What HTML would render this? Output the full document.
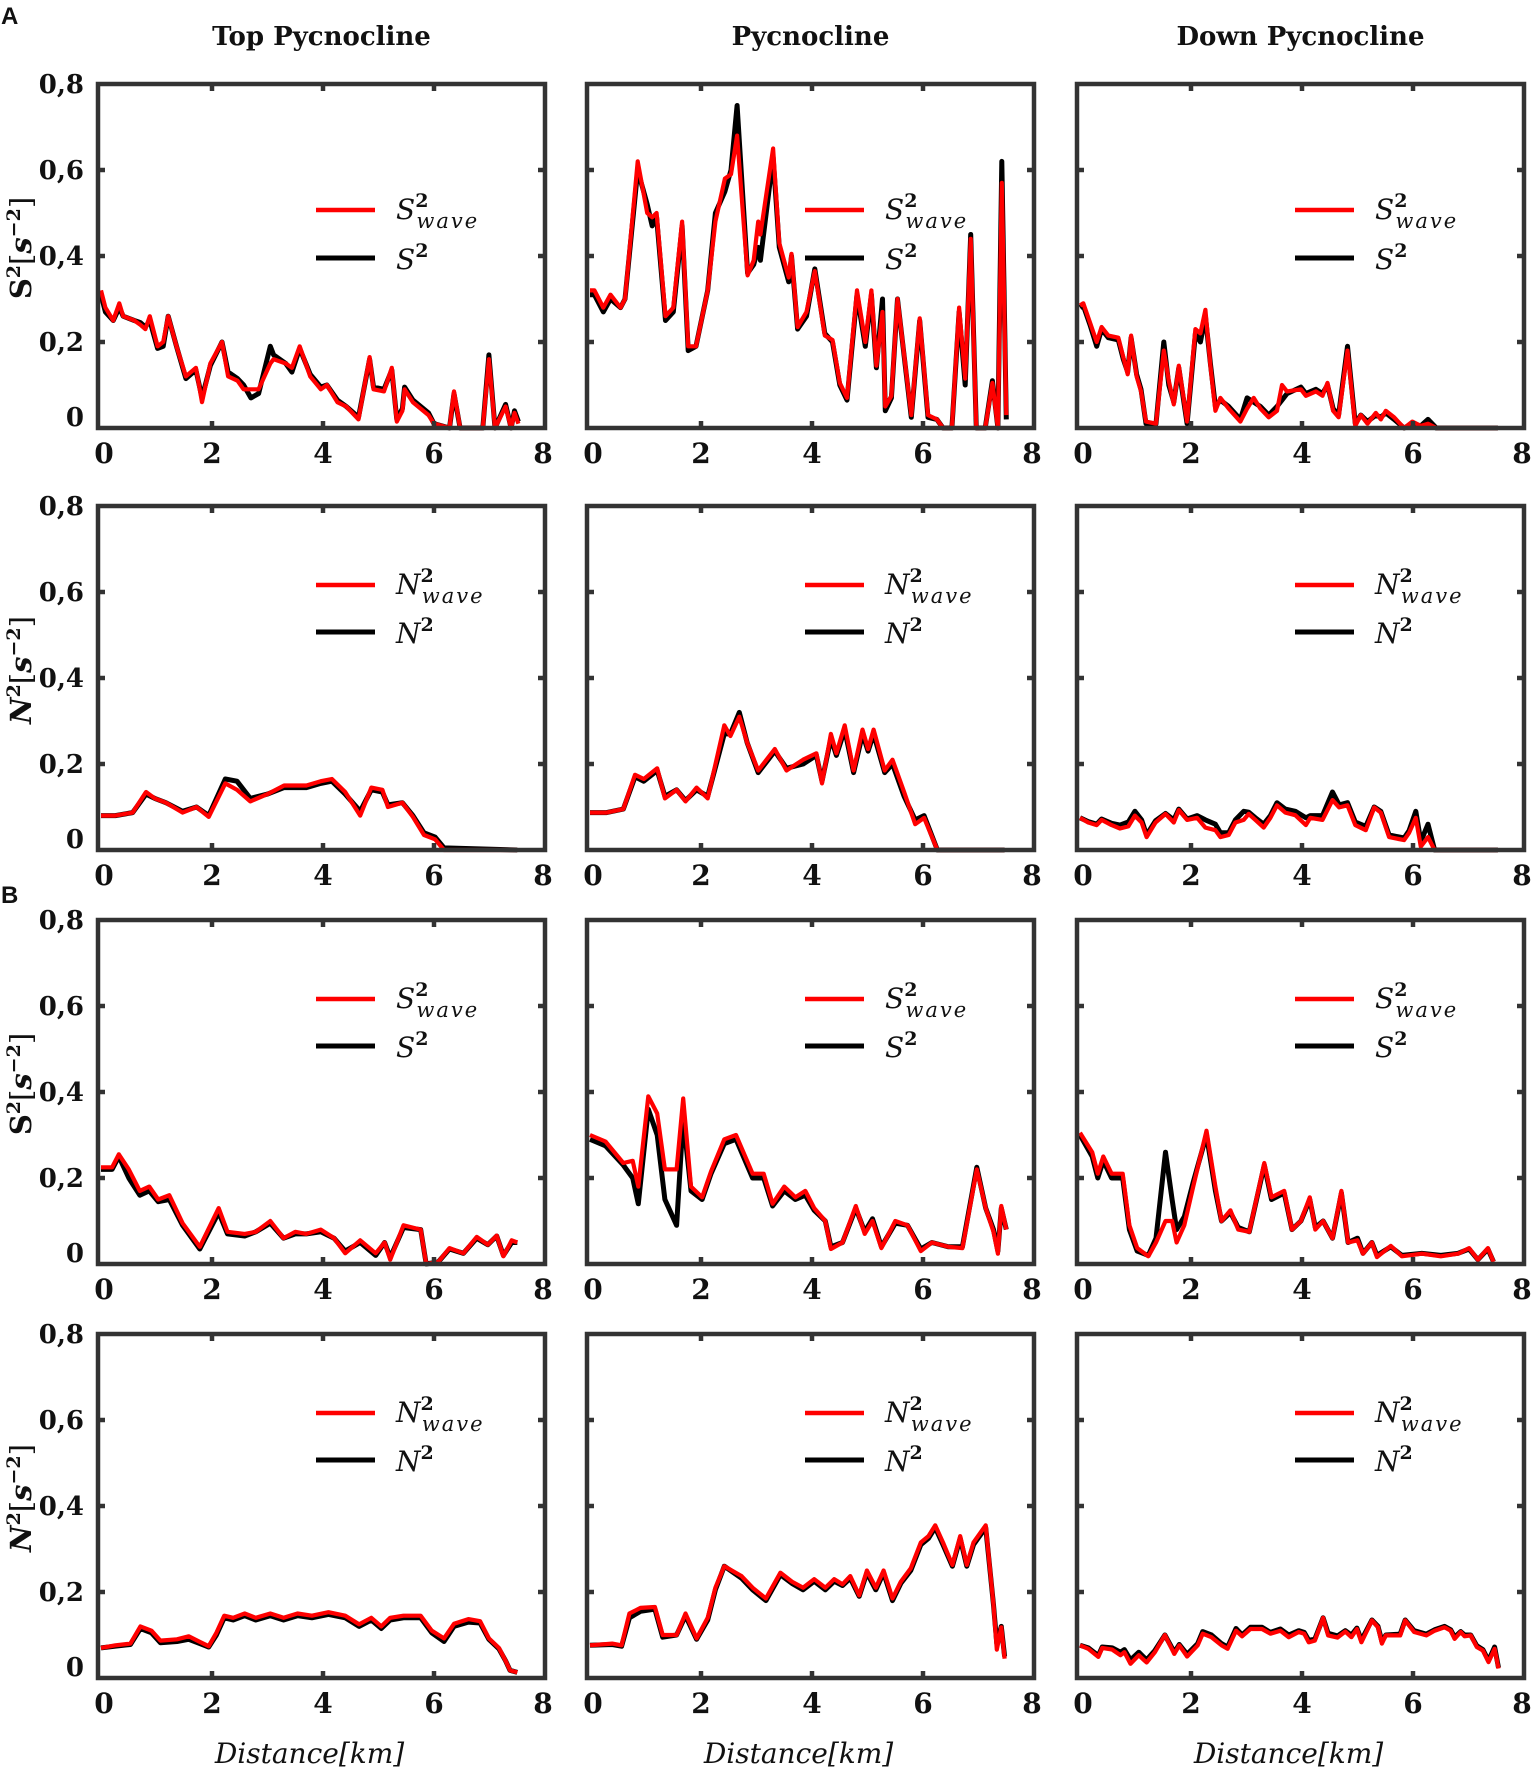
<!DOCTYPE html>
<html><head><meta charset="utf-8"><style>
html,body{margin:0;padding:0;background:#fff}
svg{display:block}
text{font-family:"DejaVu Serif","Liberation Serif",serif}
text.sans{font-family:"Liberation Sans",sans-serif}
</style></head><body>
<svg id="fig" width="1536" height="1774" viewBox="0 0 1536 1774" xmlns="http://www.w3.org/2000/svg"></svg>
<script>
// ---- data ----
const xTicks=[0,2,4,6,8];
const yTickLabels=["0","0,2","0,4","0,6","0,8"];
const yTicks=[0,0.2,0.4,0.6,0.8];
const colTitles=["Top Pycnocline","Pycnocline","Down Pycnocline"];

// A - S2 top
const aS1x=[0,0.08,0.22,0.33,0.4,0.6,0.71,0.8,0.88,1.02,1.12,1.21,1.36,1.53,1.71,1.82,1.97,2.18,2.29,2.46,2.57,2.7,2.84,3.05,3.11,3.33,3.44,3.58,3.77,3.96,4.07,4.26,4.42,4.64,4.84,4.91,5.1,5.24,5.33,5.43,5.47,5.62,5.9,6.0,6.28,6.36,6.47,6.88,6.99,7.1,7.29,7.39,7.45,7.52];
const aS1red=[0.32,0.28,0.25,0.29,0.26,0.25,0.24,0.23,0.26,0.19,0.2,0.26,0.19,0.12,0.14,0.06,0.15,0.2,0.12,0.11,0.09,0.09,0.09,0.15,0.16,0.15,0.14,0.19,0.12,0.09,0.1,0.06,0.05,0.02,0.165,0.09,0.085,0.14,0.015,0.04,0.09,0.06,0.03,0.01,0,0.085,0,0,0.16,0,0.05,0,0.035,0.01];
const aS1blk=[0.31,0.27,0.25,0.28,0.26,0.25,0.245,0.235,0.25,0.185,0.19,0.26,0.19,0.115,0.135,0.07,0.145,0.2,0.13,0.115,0.1,0.07,0.08,0.19,0.17,0.15,0.13,0.185,0.125,0.095,0.1,0.065,0.05,0.025,0.16,0.095,0.09,0.135,0.02,0.045,0.095,0.065,0.035,0.01,0,0.08,0,0,0.17,0,0.055,0,0.04,0.015];
// A - S2 pycnocline
const aS2x=[0,0.08,0.24,0.37,0.55,0.63,0.86,1.03,1.12,1.2,1.36,1.5,1.66,1.77,1.91,2.12,2.26,2.43,2.54,2.65,2.84,2.95,3.03,3.07,3.3,3.41,3.58,3.63,3.74,3.9,4.05,4.23,4.37,4.5,4.63,4.81,4.96,5.07,5.16,5.27,5.32,5.43,5.54,5.79,5.94,6.09,6.25,6.36,6.52,6.65,6.76,6.86,6.96,7.12,7.25,7.35,7.42,7.5];
const aS2red=[0.32,0.32,0.28,0.31,0.28,0.3,0.62,0.5,0.49,0.5,0.26,0.28,0.48,0.19,0.19,0.32,0.48,0.58,0.59,0.68,0.355,0.39,0.48,0.45,0.65,0.43,0.35,0.405,0.235,0.27,0.365,0.215,0.205,0.105,0.07,0.32,0.2,0.32,0.145,0.27,0.05,0.075,0.3,0.03,0.255,0.03,0.02,0,0,0.28,0.115,0.44,0,0,0.105,0,0.57,0.03];
const aS2blk=[0.31,0.31,0.27,0.3,0.28,0.3,0.6,0.52,0.47,0.49,0.25,0.27,0.47,0.18,0.19,0.32,0.5,0.55,0.6,0.75,0.36,0.38,0.42,0.39,0.63,0.42,0.34,0.4,0.23,0.26,0.37,0.22,0.2,0.1,0.065,0.31,0.19,0.31,0.14,0.3,0.04,0.07,0.3,0.025,0.25,0.025,0.02,0,0,0.27,0.1,0.45,0,0,0.11,0,0.62,0.02];
// A - S2 down
const aS3x=[0,0.06,0.18,0.3,0.39,0.51,0.69,0.78,0.86,0.92,1.02,1.1,1.19,1.37,1.51,1.6,1.69,1.78,1.93,2.08,2.17,2.26,2.35,2.44,2.53,2.68,2.89,3.01,3.13,3.25,3.4,3.55,3.64,3.73,3.98,4.07,4.25,4.37,4.46,4.56,4.66,4.82,4.96,5.06,5.18,5.33,5.42,5.51,5.66,5.84,5.99,6.14,6.27,6.42,7.53];
const aS3red=[0.285,0.29,0.245,0.2,0.235,0.215,0.21,0.165,0.125,0.215,0.12,0.085,0.015,0.01,0.18,0.11,0.055,0.145,0.015,0.23,0.22,0.275,0.145,0.04,0.07,0.045,0.015,0.045,0.07,0.045,0.025,0.04,0.1,0.085,0.09,0.075,0.085,0.075,0.105,0.04,0.025,0.18,0.005,0.03,0.01,0.035,0.02,0.04,0.025,0,0.015,0.005,0.01,0,0];
const aS3blk=[0.28,0.285,0.24,0.19,0.23,0.21,0.205,0.16,0.13,0.21,0.125,0.09,0.01,0.01,0.2,0.1,0.06,0.14,0.01,0.22,0.2,0.26,0.15,0.05,0.065,0.05,0.02,0.07,0.06,0.05,0.03,0.05,0.065,0.08,0.095,0.08,0.09,0.08,0.1,0.045,0.03,0.19,0.01,0.03,0.015,0.03,0.025,0.035,0.02,0,0.01,0.005,0.02,0,0];
// A - N2 top
const aN1x=[0,0.26,0.57,0.81,0.97,1.17,1.47,1.72,1.94,2.24,2.45,2.69,3.0,3.3,3.7,3.96,4.16,4.4,4.67,4.87,5.07,5.17,5.43,5.62,5.82,6.02,6.18,7.5];
const aN1red=[0.08,0.08,0.087,0.135,0.12,0.11,0.087,0.1,0.077,0.155,0.14,0.113,0.13,0.15,0.15,0.16,0.165,0.135,0.08,0.145,0.14,0.1,0.11,0.077,0.035,0.025,0,0];
const aN1blk=[0.08,0.08,0.087,0.13,0.12,0.11,0.09,0.1,0.08,0.165,0.16,0.12,0.13,0.145,0.145,0.155,0.16,0.13,0.09,0.14,0.135,0.105,0.11,0.08,0.04,0.03,0.005,0];
// A - N2 pycnocline
const aN2x=[0,0.3,0.6,0.81,0.97,1.21,1.35,1.56,1.72,1.92,2.12,2.42,2.53,2.69,2.83,3.03,3.33,3.54,3.84,4.08,4.18,4.34,4.44,4.59,4.75,4.91,5.01,5.11,5.31,5.45,5.66,5.86,6.02,6.26,7.47];
const aN2red=[0.087,0.087,0.095,0.175,0.165,0.19,0.12,0.14,0.113,0.145,0.12,0.29,0.265,0.31,0.25,0.185,0.235,0.185,0.21,0.225,0.155,0.27,0.225,0.29,0.185,0.28,0.235,0.28,0.185,0.21,0.135,0.06,0.075,0,0];
const aN2blk=[0.087,0.087,0.095,0.17,0.16,0.185,0.125,0.14,0.115,0.14,0.125,0.27,0.27,0.32,0.25,0.18,0.23,0.19,0.2,0.22,0.16,0.26,0.22,0.28,0.18,0.27,0.23,0.27,0.18,0.2,0.125,0.07,0.08,0,0];
// A - N2 down
const aN3x=[0,0.15,0.3,0.39,0.57,0.72,0.87,0.99,1.11,1.2,1.36,1.54,1.69,1.78,1.93,2.11,2.26,2.44,2.53,2.68,2.8,2.95,3.04,3.16,3.31,3.43,3.55,3.7,3.88,4.07,4.15,4.37,4.55,4.67,4.82,4.96,5.15,5.3,5.42,5.57,5.84,5.93,6.05,6.14,6.27,6.39,7.53];
const aN3red=[0.075,0.064,0.058,0.07,0.058,0.05,0.055,0.08,0.064,0.03,0.064,0.084,0.064,0.093,0.07,0.075,0.052,0.046,0.03,0.035,0.064,0.07,0.084,0.07,0.052,0.075,0.104,0.087,0.081,0.058,0.075,0.07,0.116,0.099,0.104,0.058,0.046,0.099,0.087,0.03,0.023,0.04,0.075,0.008,0.03,0,0];
const aN3blk=[0.075,0.066,0.06,0.072,0.062,0.058,0.065,0.09,0.07,0.035,0.068,0.085,0.07,0.095,0.072,0.08,0.07,0.06,0.04,0.04,0.07,0.09,0.088,0.075,0.06,0.08,0.11,0.095,0.09,0.075,0.08,0.08,0.135,0.105,0.11,0.065,0.055,0.1,0.09,0.035,0.028,0.045,0.09,0.02,0.06,0,0];
// B - S2 top
const bS1x=[0,0.2,0.32,0.5,0.7,0.87,1.03,1.23,1.47,1.78,2.12,2.28,2.59,2.79,3.05,3.29,3.5,3.7,3.96,4.2,4.4,4.67,4.95,5.11,5.21,5.45,5.76,5.86,6.08,6.28,6.53,6.77,6.97,7.13,7.25,7.4,7.5];
const bS1red=[0.225,0.225,0.255,0.22,0.17,0.18,0.15,0.16,0.095,0.04,0.13,0.075,0.07,0.075,0.1,0.06,0.075,0.07,0.08,0.06,0.025,0.055,0.025,0.05,0.01,0.09,0.08,0,0.005,0.037,0.025,0.063,0.045,0.066,0.018,0.055,0.05];
const bS1blk=[0.22,0.22,0.25,0.2,0.16,0.17,0.145,0.15,0.09,0.035,0.12,0.07,0.065,0.075,0.095,0.06,0.07,0.07,0.075,0.06,0.03,0.05,0.02,0.05,0.015,0.085,0.08,0,0.005,0.035,0.025,0.06,0.045,0.065,0.02,0.05,0.05];
// B - S2 pycnocline
const bS2x=[0,0.28,0.6,0.77,0.87,1.05,1.21,1.35,1.56,1.68,1.82,2.02,2.18,2.42,2.63,2.93,3.13,3.29,3.5,3.7,3.88,4.04,4.24,4.34,4.55,4.79,4.95,5.09,5.25,5.5,5.72,5.96,6.16,6.46,6.71,6.97,7.13,7.27,7.35,7.41,7.5];
const bS2red=[0.3,0.285,0.235,0.24,0.18,0.39,0.35,0.22,0.22,0.385,0.18,0.155,0.215,0.29,0.3,0.21,0.21,0.14,0.18,0.155,0.17,0.13,0.1,0.035,0.05,0.135,0.07,0.1,0.037,0.1,0.09,0.03,0.05,0.04,0.037,0.22,0.13,0.075,0.024,0.135,0.08];
const bS2blk=[0.29,0.275,0.23,0.2,0.14,0.36,0.3,0.15,0.09,0.34,0.17,0.15,0.21,0.28,0.29,0.2,0.2,0.135,0.17,0.15,0.16,0.125,0.1,0.04,0.05,0.13,0.075,0.105,0.04,0.095,0.09,0.035,0.05,0.04,0.04,0.225,0.13,0.08,0.03,0.13,0.08];
// B - S2 down
const bS3x=[0,0.22,0.32,0.42,0.57,0.77,0.89,1.03,1.23,1.37,1.54,1.66,1.74,1.88,2.04,2.28,2.44,2.55,2.71,2.85,3.05,3.32,3.45,3.68,3.82,3.98,4.14,4.24,4.38,4.55,4.71,4.83,5.0,5.1,5.26,5.35,5.6,5.8,6.16,6.5,6.81,7.01,7.17,7.35,7.45];
const bS3red=[0.305,0.26,0.21,0.25,0.21,0.21,0.09,0.037,0.018,0.05,0.1,0.1,0.05,0.09,0.18,0.31,0.18,0.1,0.125,0.08,0.075,0.235,0.155,0.17,0.08,0.1,0.155,0.08,0.1,0.06,0.17,0.05,0.055,0.024,0.05,0.016,0.042,0.018,0.024,0.018,0.024,0.037,0.01,0.037,0.005];
const bS3blk=[0.3,0.25,0.2,0.24,0.2,0.2,0.08,0.03,0.02,0.06,0.26,0.15,0.08,0.11,0.19,0.3,0.17,0.1,0.12,0.085,0.075,0.23,0.15,0.165,0.08,0.1,0.15,0.085,0.1,0.06,0.165,0.05,0.06,0.025,0.05,0.02,0.04,0.02,0.025,0.02,0.025,0.035,0.01,0.035,0.005];
// B - N2 top
const bN1x=[0,0.26,0.53,0.71,0.91,1.07,1.37,1.58,1.78,1.94,2.08,2.22,2.38,2.59,2.79,3.05,3.29,3.54,3.8,4.1,4.4,4.65,4.87,5.05,5.21,5.45,5.76,5.96,6.18,6.36,6.62,6.83,6.99,7.17,7.29,7.37,7.5];
const bN1red=[0.07,0.076,0.08,0.12,0.11,0.087,0.09,0.097,0.084,0.074,0.105,0.145,0.14,0.15,0.14,0.15,0.14,0.15,0.145,0.153,0.145,0.125,0.14,0.12,0.14,0.145,0.145,0.11,0.092,0.126,0.137,0.132,0.092,0.07,0.04,0.018,0.013];
const bN1blk=[0.07,0.074,0.078,0.115,0.105,0.082,0.085,0.09,0.08,0.072,0.1,0.14,0.135,0.145,0.135,0.145,0.135,0.145,0.14,0.148,0.14,0.12,0.135,0.115,0.135,0.14,0.14,0.105,0.085,0.12,0.13,0.128,0.09,0.068,0.04,0.018,0.013];
// B - N2 pycnocline
const bN2x=[0,0.4,0.57,0.71,0.91,1.17,1.31,1.56,1.72,1.92,2.12,2.26,2.42,2.73,2.93,3.17,3.43,3.64,3.84,4.04,4.24,4.4,4.55,4.69,4.85,4.99,5.15,5.29,5.45,5.6,5.78,5.96,6.1,6.22,6.36,6.53,6.67,6.79,6.91,7.13,7.27,7.33,7.41,7.47];
const bN2red=[0.076,0.08,0.076,0.15,0.163,0.165,0.1,0.1,0.15,0.092,0.14,0.21,0.26,0.237,0.21,0.185,0.245,0.224,0.21,0.23,0.21,0.23,0.218,0.237,0.192,0.25,0.21,0.25,0.185,0.224,0.255,0.315,0.33,0.355,0.315,0.263,0.33,0.263,0.315,0.355,0.17,0.066,0.118,0.045];
const bN2blk=[0.076,0.078,0.074,0.14,0.155,0.16,0.095,0.1,0.145,0.09,0.135,0.205,0.26,0.232,0.205,0.18,0.24,0.22,0.205,0.225,0.205,0.225,0.215,0.232,0.19,0.245,0.205,0.245,0.18,0.22,0.25,0.31,0.325,0.35,0.31,0.26,0.325,0.26,0.31,0.35,0.17,0.08,0.12,0.05];
// B - N2 down
const bN3x=[0,0.15,0.33,0.4,0.58,0.73,0.8,0.91,1.06,1.2,1.35,1.53,1.7,1.79,1.93,2.12,2.21,2.37,2.55,2.66,2.81,2.92,3.07,3.28,3.43,3.61,3.76,3.94,4.04,4.12,4.23,4.38,4.47,4.64,4.78,4.89,4.99,5.07,5.26,5.37,5.44,5.51,5.77,5.86,6.02,6.24,6.39,6.57,6.68,6.75,6.86,6.93,7.04,7.15,7.26,7.36,7.47,7.54];
const bN3red=[0.076,0.068,0.049,0.07,0.066,0.053,0.06,0.033,0.053,0.036,0.06,0.1,0.056,0.076,0.05,0.076,0.103,0.095,0.076,0.068,0.11,0.097,0.114,0.114,0.103,0.11,0.095,0.107,0.103,0.083,0.087,0.14,0.099,0.094,0.108,0.095,0.114,0.083,0.134,0.118,0.08,0.099,0.099,0.134,0.107,0.099,0.11,0.118,0.11,0.091,0.107,0.097,0.099,0.072,0.064,0.037,0.068,0.022];
const bN3blk=[0.076,0.07,0.052,0.072,0.07,0.06,0.066,0.042,0.06,0.042,0.064,0.1,0.06,0.078,0.055,0.08,0.108,0.1,0.08,0.072,0.115,0.1,0.118,0.118,0.106,0.114,0.1,0.11,0.106,0.088,0.09,0.14,0.104,0.098,0.11,0.1,0.116,0.088,0.135,0.12,0.085,0.1,0.102,0.135,0.11,0.102,0.112,0.12,0.112,0.095,0.108,0.1,0.1,0.075,0.066,0.04,0.072,0.024];

const panelsData=[
 [aS1x,aS1red,aS1blk],[aS2x,aS2red,aS2blk],[aS3x,aS3red,aS3blk],
 [aN1x,aN1red,aN1blk],[aN2x,aN2red,aN2blk],[aN3x,aN3red,aN3blk],
 [bS1x,bS1red,bS1blk],[bS2x,bS2red,bS2blk],[bS3x,bS3red,bS3blk],
 [bN1x,bN1red,bN1blk],[bN2x,bN2red,bN2blk],[bN3x,bN3red,bN3blk]
];

// ---- layout ----
const NS="http://www.w3.org/2000/svg";
const svg=document.getElementById('fig');
const colL=[98,587,1077], PW=447;
const rowT=[84,506,920,1334], PH=344;
function el(tag,attrs,parent){const e=document.createElementNS(NS,tag);for(const k in attrs)e.setAttribute(k,attrs[k]);(parent||svg).appendChild(e);return e;}

function txt(parent,x,y,s,size,weight,style,anchor){
  const t=el('text',{x:x,y:y,'font-size':size,'font-weight':weight||'normal','font-style':style||'normal','text-anchor':anchor||'middle',fill:'#111'},parent);
  t.textContent=s;return t;
}

// panel letters
const la=txt(svg,1,24,"A",24,'bold','normal','start');la.setAttribute('class','sans');


const lb=txt(svg,1,903,"B",24,'bold','normal','start');lb.setAttribute('class','sans');



// column titles
colTitles.forEach((s,i)=>{
  const t=txt(svg,colL[i]+PW/2,45,s,26,'bold');
  
  
});

for(let r=0;r<4;r++){
  const isS=(r%2===0);
  const sym=isS?'S':'N';
  // y axis title
  const yt=el('text',{x:0,y:0,'font-size':29,'font-weight':'bold','text-anchor':'middle',fill:'#111',transform:`translate(31,${rowT[r]+PH/2-8}) rotate(-90)`});
  
  
  yt.innerHTML=`<tspan font-style="${isS?'normal':'italic'}">${sym}</tspan><tspan dy="-11" font-size="19">2</tspan><tspan dy="11" font-weight="normal">[</tspan><tspan font-style="italic">s</tspan><tspan dy="-11" font-size="19">−2</tspan><tspan dy="11" font-weight="normal">]</tspan>`;
  for(let c=0;c<3;c++){
    const L=colL[c],T=rowT[r];
    const [xs,red,blk]=panelsData[r*3+c];
    const g=el('g',{});
    
    
    const sx=v=>L+3+v/8*(PW-3);
    const sy=v=>T+PH-v/0.8*PH;
    const mk=(arr)=>xs.map((x,i)=>sx(x).toFixed(1)+','+sy(arr[i]).toFixed(1)).join(' ');
    const pb=el('polyline',{points:mk(blk),fill:'none',stroke:'#000','stroke-width':5,'stroke-linejoin':'round'},g);
    
    
    const pr=el('polyline',{points:mk(red),fill:'none',stroke:'#ff0000','stroke-width':4.2,'stroke-linejoin':'round'},g);
    
    
    const fr=el('rect',{x:L,y:T,width:PW,height:PH,fill:'none',stroke:'#333','stroke-width':4.5},g);
    
    
    xTicks.forEach(v=>{
      if(v>0&&v<8){
        el('line',{x1:sx(v),x2:sx(v),y1:T,y2:T+7,stroke:'#333','stroke-width':4.5},g);
        el('line',{x1:sx(v),x2:sx(v),y1:T+PH,y2:T+PH-7,stroke:'#333','stroke-width':4.5},g);
      }
      const t=txt(g,sx(v)+(v===0?3:0)-(v===8?2:0),T+PH+35,String(v),28,'bold');
      
      
    });
    yTicks.forEach((v,i)=>{
      if(v>0&&v<0.8){
        el('line',{x1:L,x2:L+7,y1:sy(v),y2:sy(v),stroke:'#333','stroke-width':4.5},g);
        el('line',{x1:L+PW,x2:L+PW-7,y1:sy(v),y2:sy(v),stroke:'#333','stroke-width':4.5},g);
      }
      if(c===0){
        const yy=i===0?sy(v)-2:sy(v)+9;
        const t=txt(g,L-14,yy,yTickLabels[i],26,'bold','normal','end');
        
        
      }
    });
    const ly1=T+(r===0?126:79), ly2=T+(r===0?174:126);
    const lg=el('g',{},g);
    
    
    el('line',{x1:L+218,x2:L+277,y1:ly1,y2:ly1,stroke:'#ff0000','stroke-width':4.5},lg);
    el('line',{x1:L+218,x2:L+277,y1:ly2,y2:ly2,stroke:'#000','stroke-width':5},lg);
    const t1=el('text',{x:L+298,y:ly1+9,'font-size':28,'font-style':'italic',fill:'#111'},lg);
    
    
    t1.innerHTML=`${sym}<tspan dy="-12" font-size="19" font-style="normal" font-weight="bold">2</tspan><tspan dx="-12" dy="21" font-size="21" letter-spacing="2">wave</tspan>`;
    const t2=el('text',{x:L+298,y:ly2+11,'font-size':28,'font-style':'italic',fill:'#111'},lg);
    
    
    t2.innerHTML=`${sym}<tspan dy="-12" font-size="19" font-style="normal" font-weight="bold">2</tspan>`;
  }
}
for(let c=0;c<3;c++){
  const t=txt(svg,colL[c]+PW/2-12,1763,"Distance[km]",28,'normal','italic');
  
  
}
</script>
</body></html>
